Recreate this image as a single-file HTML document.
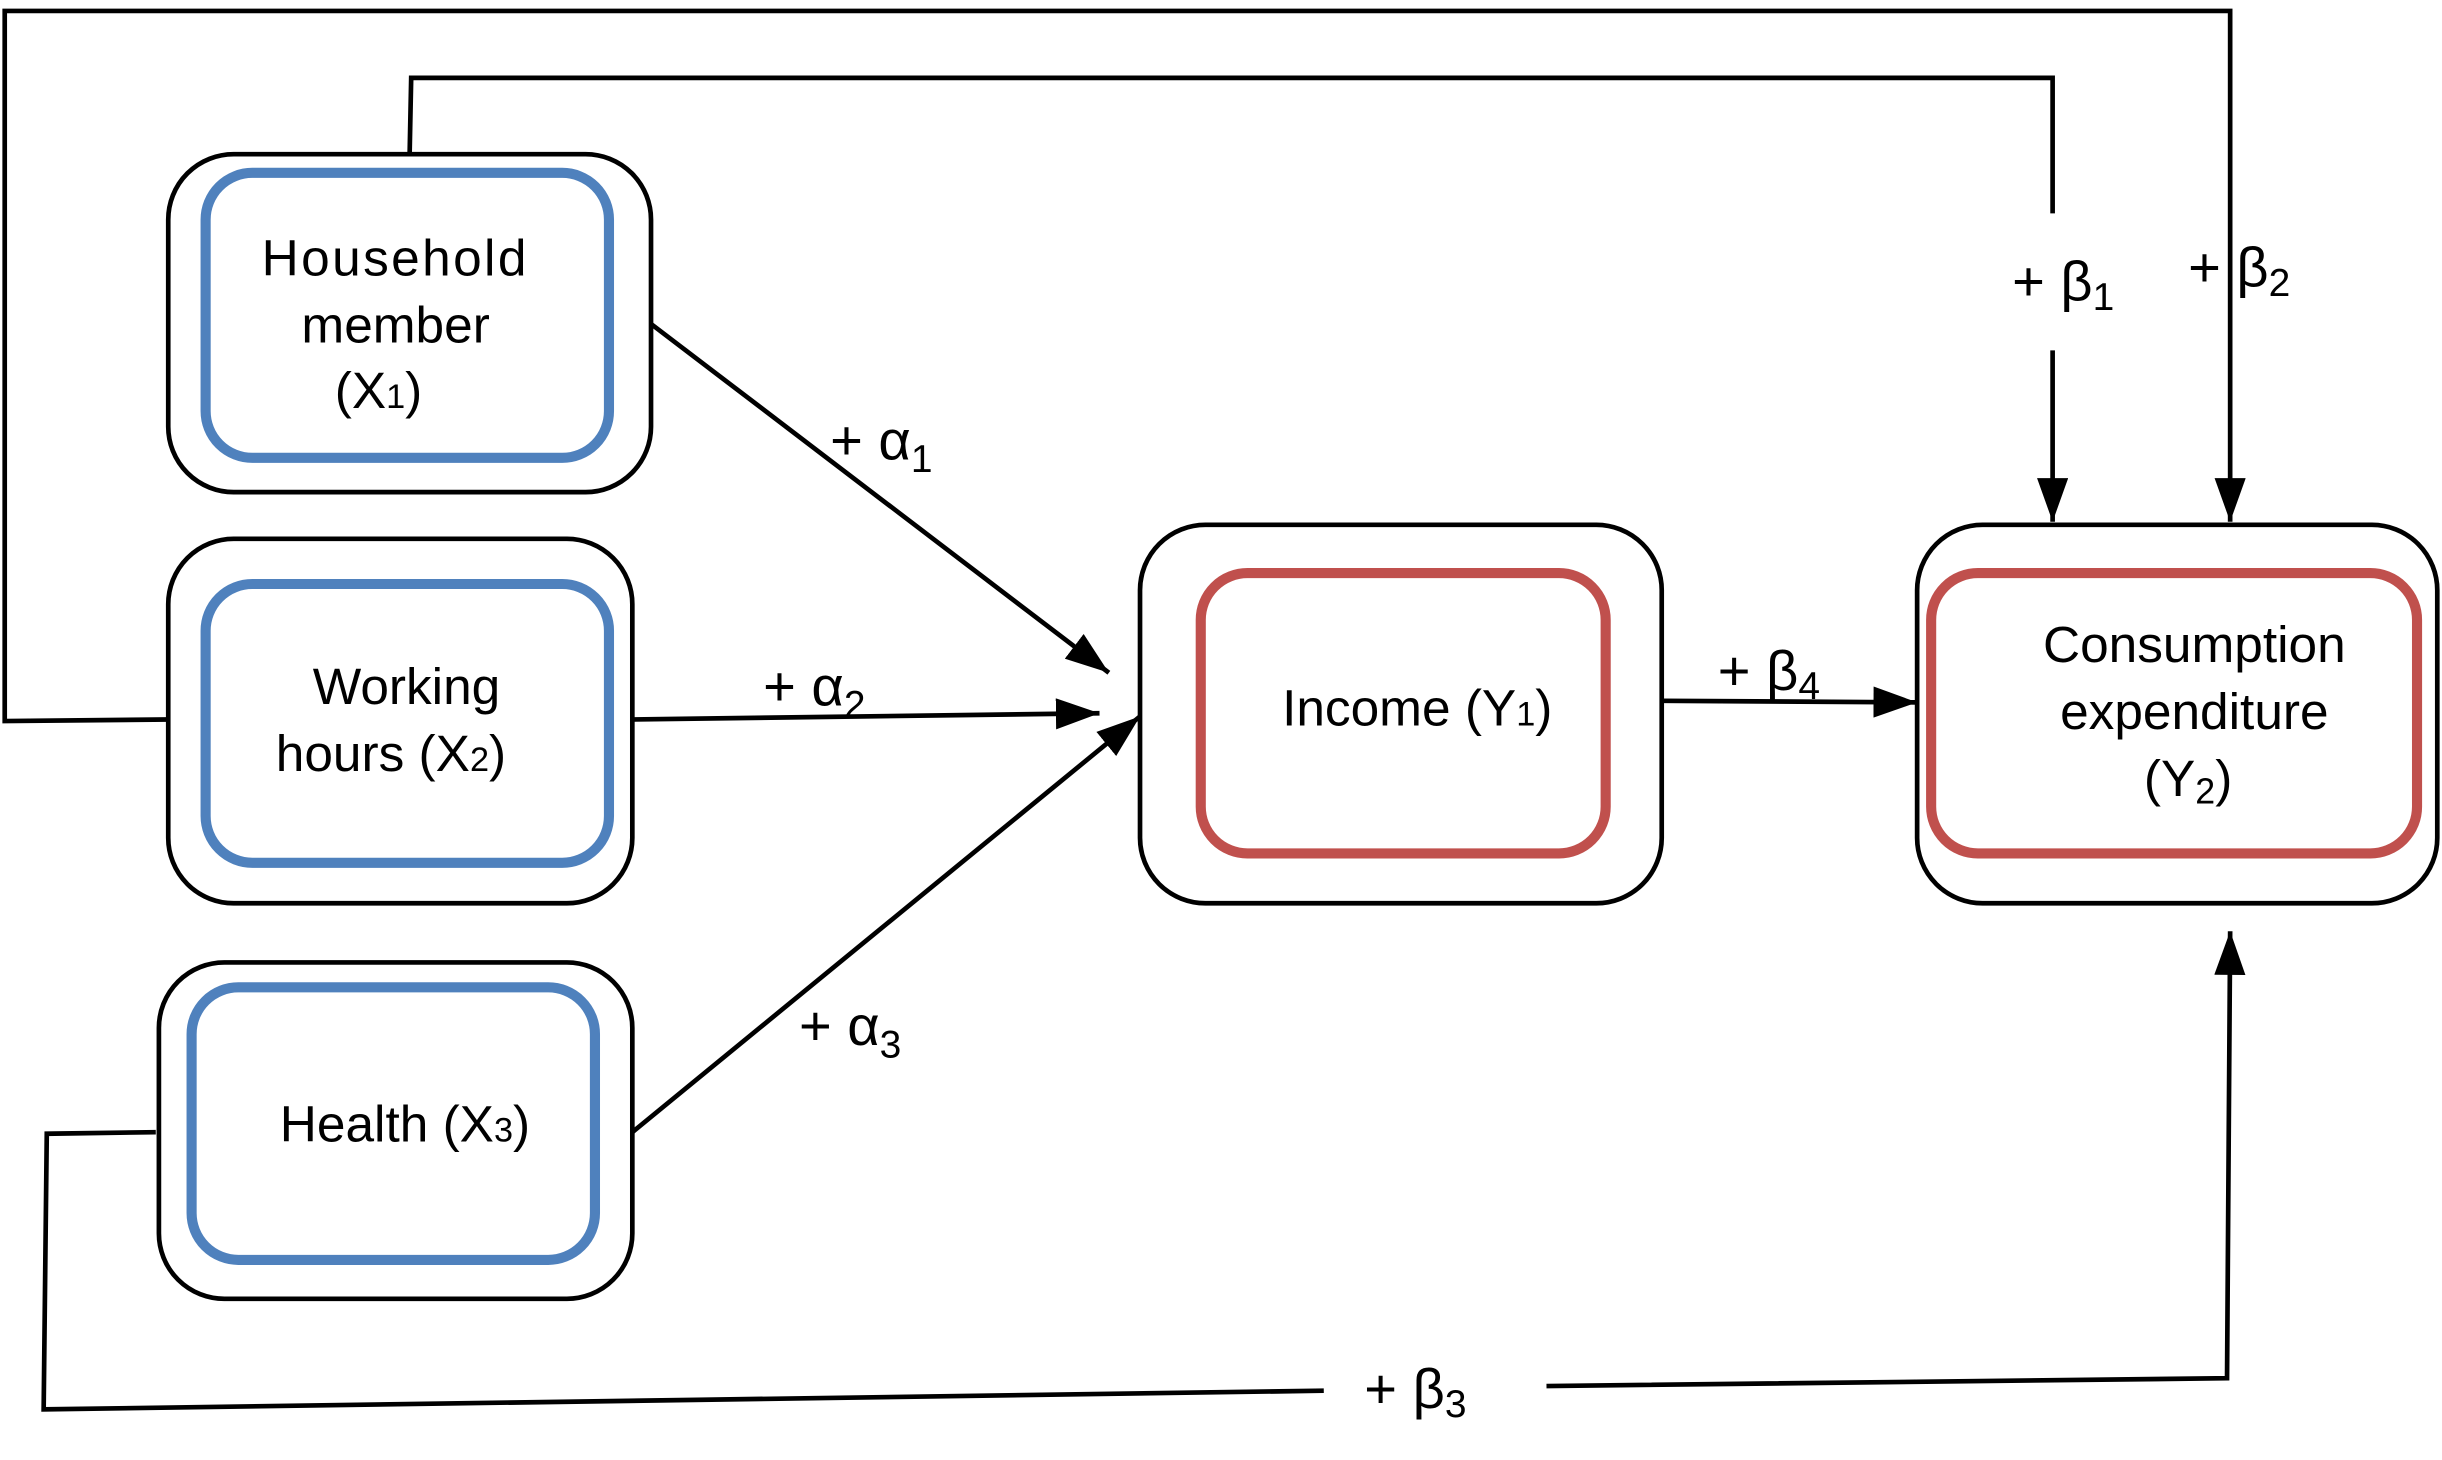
<!DOCTYPE html>
<html><head><meta charset="utf-8"><style>
html,body{margin:0;padding:0;background:#fff;}
svg{display:block;}
text{font-family:"Liberation Sans",sans-serif;font-size:33px;fill:#000;}
.l{font-size:36px;}
</style></head><body>
<svg width="2442" height="1460" viewBox="0 0 1568 937.5" xmlns="http://www.w3.org/2000/svg">
<defs>
<marker id="b" markerWidth="28" markerHeight="20" refX="28" refY="10" orient="auto" markerUnits="userSpaceOnUse"><path d="M0,0 L28,10 L0,20 z" fill="#000"/></marker></defs>
<g fill="none" stroke="#000" stroke-width="3">
<polyline points="107,462 3,463 3,7 1432,7 1432,335" marker-end="url(#b)"/>
<polyline points="263,99 264,50 1318,50 1318,137"/>
<line x1="1318" y1="225" x2="1318" y2="335" marker-end="url(#b)"/>
<polyline points="100,727 30,728 28,905 850,893"/>
<polyline points="993,890 1430,885 1432,598" marker-end="url(#b)"/>
<line x1="418" y1="208" x2="712" y2="432" marker-end="url(#b)"/>
<line x1="406" y1="462" x2="706" y2="458" marker-end="url(#b)"/>
<line x1="406" y1="727" x2="732" y2="460" marker-end="url(#b)"/>
<line x1="1067" y1="450" x2="1231" y2="451" marker-end="url(#b)"/>
<rect x="108" y="99" width="310" height="217" rx="42" fill="#fff"/>
<rect x="108" y="346" width="298" height="234" rx="42" fill="#fff"/>
<rect x="102" y="618" width="304" height="216" rx="42" fill="#fff"/>
<rect x="732" y="337" width="335" height="243" rx="42" fill="#fff"/>
<rect x="1231" y="337" width="334" height="243" rx="42" fill="#fff"/>
</g>
<g fill="none" stroke-width="6.5">
<rect x="132" y="111" width="259" height="183" rx="30" stroke="#4f81bd"/>
<rect x="132" y="375" width="259" height="179" rx="30" stroke="#4f81bd"/>
<rect x="123" y="634" width="259" height="175" rx="30" stroke="#4f81bd"/>
<rect x="771" y="368" width="260" height="180" rx="30" stroke="#c0504d"/>
<rect x="1240" y="368" width="312" height="180" rx="30" stroke="#c0504d"/>
</g>
<text x="253" y="177" text-anchor="middle" textLength="170">Household</text>
<text x="254" y="220" text-anchor="middle">member</text>
<text x="243" y="262" text-anchor="middle">(X<tspan font-size="22">1</tspan>)</text>
<text x="261" y="452" text-anchor="middle">Working</text>
<text x="251" y="495" text-anchor="middle">hours (X<tspan font-size="22">2</tspan>)</text>
<text x="260" y="733" text-anchor="middle">Health (X<tspan font-size="22">3</tspan>)</text>
<text x="910" y="466" text-anchor="middle">Income (Y<tspan font-size="22">1</tspan>)</text>
<text x="1409" y="425" text-anchor="middle">Consumption</text>
<text x="1409" y="468" text-anchor="middle">expenditure</text>
<text x="1405" y="511" text-anchor="middle">(Y<tspan font-size="23" dy="5">2</tspan><tspan dy="-5">)</tspan></text>
<text class="l" x="533" y="295">+ α<tspan font-size="25" dy="8">1</tspan></text>
<text class="l" x="490" y="453">+ α<tspan font-size="25" dy="8">2</tspan></text>
<text class="l" x="513" y="671">+ α<tspan font-size="25" dy="8">3</tspan></text>
<text class="l" x="1103" y="443">+ β<tspan font-size="25" dy="6">4</tspan></text>
<text class="l" x="1292" y="193">+ β<tspan font-size="25" dy="6">1</tspan></text>
<text class="l" x="1405" y="184">+ β<tspan font-size="25" dy="6">2</tspan></text>
<text class="l" x="876" y="904">+ β<tspan font-size="25" dy="6">3</tspan></text>
</svg>
</body></html>
